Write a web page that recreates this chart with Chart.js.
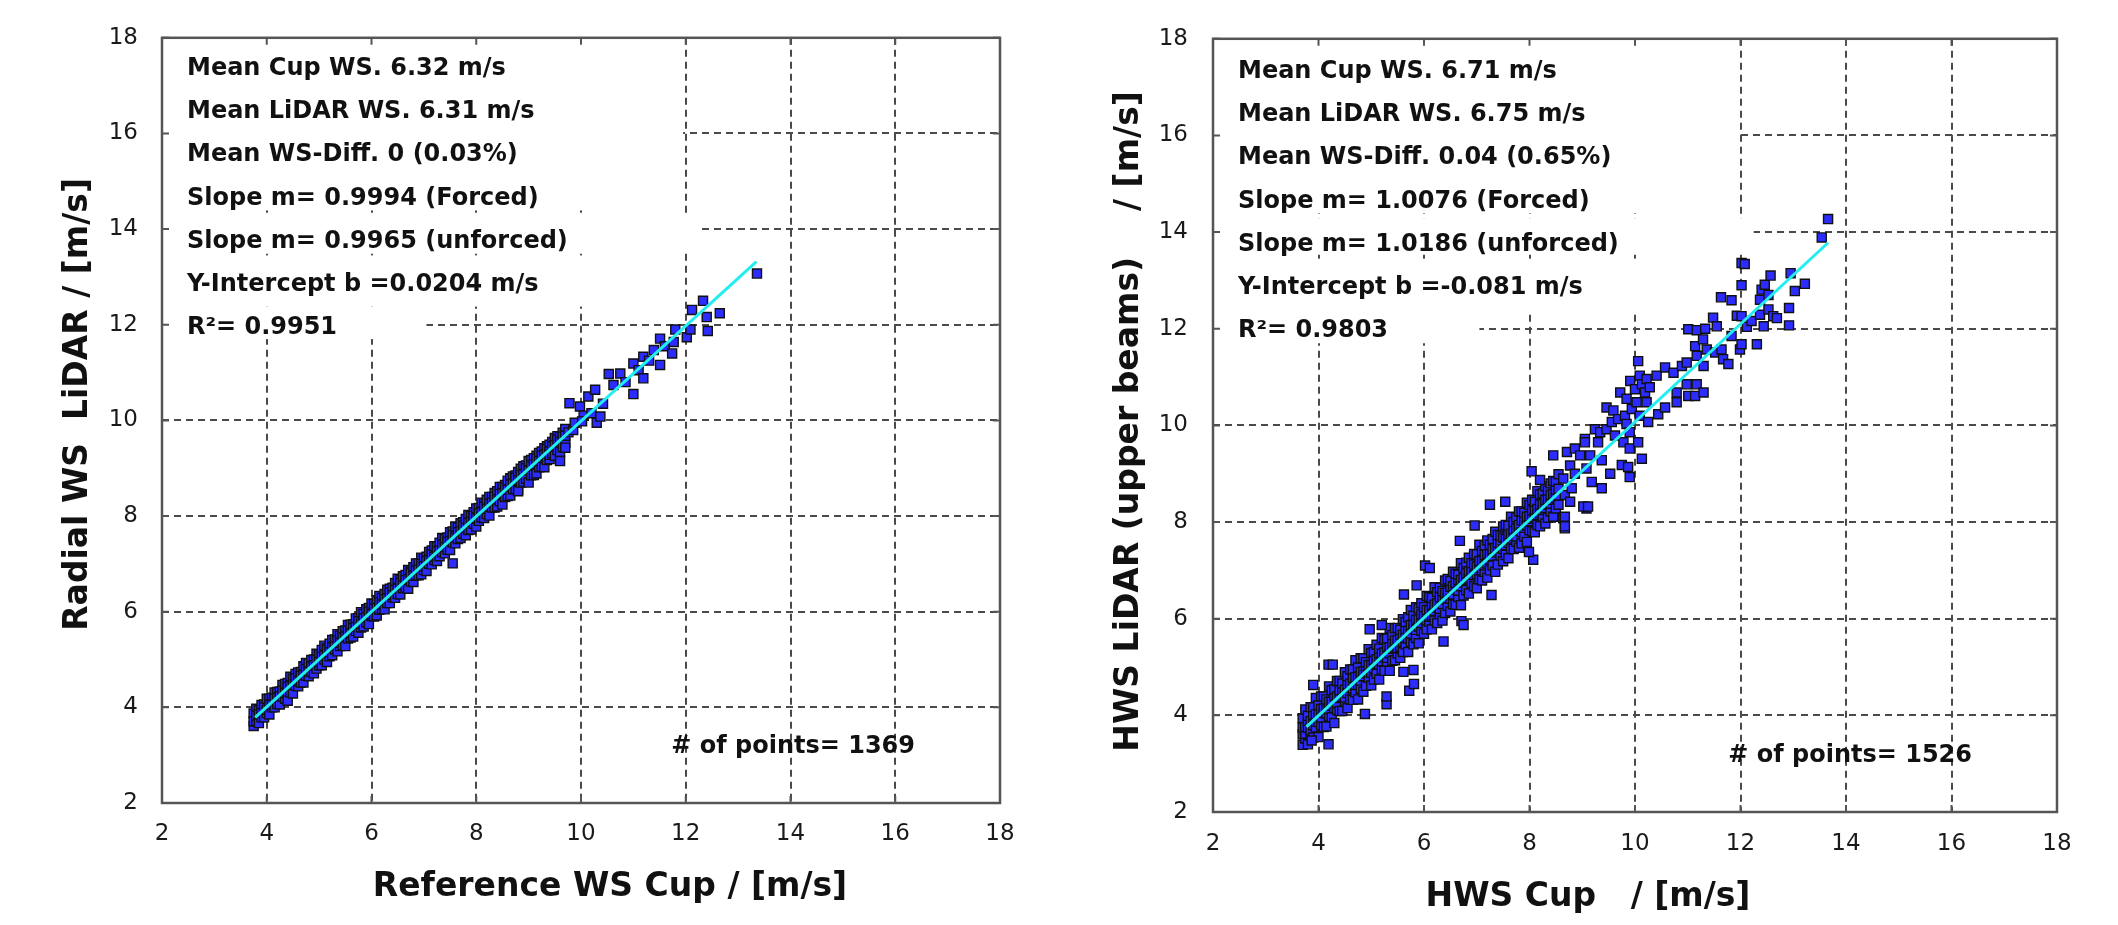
<!DOCTYPE html>
<html>
<head>
<meta charset="utf-8">
<script src="https://cdn.jsdelivr.net/npm/chart.js@4.4.1/dist/chart.umd.min.js"></script>
<style>
html, body { margin: 0; padding: 0; background: #fff; }
#izq { position: absolute; left: 0; top: 0; width: 1060px; height: 925px; }
#der { position: absolute; left: 1060px; top: 0; width: 1058px; height: 925px; }
</style>
</head>
<body>
<div id="izq"><canvas id="graficaIzq"></canvas></div>
<div id="der"><canvas id="graficaDer"></canvas></div>
<script>
// ticks de los dos ejes (iguales en las dos graficas)
var ticksEje = [2, 4, 6, 8, 10, 12, 14, 16, 18];

var columnasIzq = [
  [3.75,3.61,3.87,3.71],[3.80,3.71,3.97,3.83],[3.85,3.67,3.94,3.85],[3.90,3.79,4.05,3.88],
  [3.95,3.79,4.06,4.00],[4.00,3.88,4.18,3.95],[4.05,3.85,4.18,4.06],[4.10,4.00,4.20,4.06],
  [4.15,4.00,4.31,4.18],[4.20,4.07,4.32,4.20],[4.25,4.06,4.33,4.23],[4.30,4.22,4.47,4.35],
  [4.35,4.18,4.49,4.30],[4.40,4.28,4.51,4.43,4.14],[4.45,4.31,4.64,4.45],[4.50,4.29,4.60,4.48],
  [4.55,4.45,4.70,4.60],[4.60,4.44,4.73,4.55],[4.65,4.52,4.74,4.66],[4.70,4.52,4.86,4.68],
  [4.75,4.66,4.93,4.80],[4.80,4.65,4.92,4.75],[4.85,4.74,4.99,4.86],[4.90,4.71,5.00,4.88],
  [4.95,4.81,5.12,5.00],[5.00,4.88,5.11,4.95],[5.05,4.88,5.20,5.06],[5.10,5.00,5.29,5.08],
  [5.15,4.95,5.24,5.20],[5.20,5.07,5.33,5.15],[5.25,5.09,5.41,5.26],[5.30,5.21,5.42,5.28],
  [5.35,5.17,5.53,5.40],[5.40,5.28,5.50,5.35],[5.45,5.30,5.59,5.46],[5.50,5.28,5.61,5.48],
  [5.55,5.44,5.72,5.60],[5.60,5.46,5.73,5.55],[5.65,5.48,5.74,5.66],[5.70,5.60,5.86,5.68],
  [5.75,5.56,5.87,5.80],[5.80,5.67,5.99,5.75],[5.85,5.69,5.95,5.86],[5.90,5.78,6.05,5.88],
  [5.95,5.74,6.08,6.00],[6.00,5.91,6.17,5.95],[6.05,5.90,6.16,6.06],[6.10,5.92,6.24,6.08],
  [6.15,6.04,6.33,6.20],[6.20,6.06,6.29,6.15],[6.25,6.05,6.37,6.26],[6.30,6.18,6.46,6.28],
  [6.35,6.18,6.48,6.40],[6.40,6.30,6.50,6.35],[6.45,6.29,6.60,6.46],[6.50,6.37,6.69,6.48],
  [6.55,6.36,6.66,6.60],[6.60,6.49,6.74,6.55],[6.65,6.50,6.77,6.66],[6.70,6.48,6.87,6.68],
  [6.75,6.63,6.84,6.80],[6.80,6.62,6.93,6.75],[6.85,6.76,7.01,6.86],[6.90,6.76,7.01,6.88],
  [6.95,6.78,7.13,7.00],[7.00,6.87,7.12,6.95],[7.05,6.85,7.15,7.06],[7.10,7.00,7.25,7.08],
  [7.15,6.99,7.28,7.20],[7.20,7.08,7.37,7.15],[7.25,7.06,7.36,7.26],[7.30,7.16,7.44,7.28],
  [7.35,7.24,7.54,7.40],[7.40,7.22,7.52,7.35],[7.45,7.30,7.55,7.46],[7.50,7.29,7.66,7.48],
  [7.55,7.45,7.68,7.60,7.01],[7.60,7.43,7.78,7.55],[7.65,7.52,7.76,7.66],[7.70,7.54,7.85,7.68],
  [7.75,7.63,7.87,7.80],[7.80,7.60,7.94,7.75],[7.85,7.71,8.02,7.86],[7.90,7.72,8.00,7.88],
  [7.95,7.84,8.08,8.00],[8.00,7.78,8.16,7.95],[8.05,7.90,8.17,8.06],[8.10,7.97,8.28,8.08],
  [8.15,7.96,8.26,8.20],[8.20,8.04,8.34,8.15],[8.25,8.01,8.40,8.26],[8.30,8.18,8.40,8.28],
  [8.35,8.18,8.48,8.40],[8.40,8.20,8.52,8.35],[8.45,8.31,8.61,8.46],[8.50,8.24,8.61,8.48],
  [8.55,8.40,8.65,8.60],[8.60,8.42,8.74,8.55],[8.65,8.43,8.79,8.66],[8.70,8.56,8.83,8.68],
  [8.75,8.56,8.85,8.80],[8.80,8.55,8.92,8.75,8.52],[8.85,8.70,8.99,8.86],[8.90,8.72,9.04,8.88],
  [8.95,8.78,9.06,9.00],[9.00,8.70,9.15,8.95],[9.05,8.85,9.17,9.06],[9.10,8.86,9.21,9.08],
  [9.15,8.89,9.26,9.20],[9.20,9.02,9.32,9.15],[9.25,9.03,9.35,9.26],[9.30,9.02,9.42,9.28],
  [9.35,9.17,9.46,9.40],[9.40,9.19,9.49,9.35,9.28],[9.45,9.31,9.55,9.46],[9.50,9.26,9.63,9.48],
  [9.55,9.38,9.67,9.60],[9.60,9.34,9.66,9.55,9.15],[9.65,9.44,9.74,9.66],[9.70,9.53,9.82,9.68,9.43]
];
// puntos sueltos de la parte alta [cup, lidar]
var sueltosIzq = [
  [9.78,10.36],[9.76,9.75],[9.85,9.80],[9.88,9.95],[9.98,10.29],[10.05,10.10],[10.02,9.98],
  [10.14,10.50],[10.20,10.15],[10.27,10.64],[10.30,9.95],[10.37,10.08],[10.42,10.35],
  [10.53,10.97],[10.62,10.74],[10.75,10.98],[10.85,10.80],[11.00,11.19],[11.00,10.55],
  [11.10,11.05],[11.19,11.33],[11.19,10.88],[11.30,11.25],[11.39,11.47],[11.51,11.71],
  [11.51,11.16],[11.60,11.55],[11.74,11.40],[11.77,11.64],[11.80,11.90],[12.02,11.74],
  [12.09,11.90],[12.12,12.31],[12.33,12.50],[12.40,12.16],[12.42,11.87],[12.65,12.24],
  [13.36,13.07]
];
var rectaIzq = [[3.78,3.79],[13.35,13.32]];

// grafica derecha
var columnasDer = [
  [3.70,3.39,3.61,3.75,3.94],[3.75,3.52,3.62,3.76,4.12],[3.80,3.40,3.74,3.89,3.99],
  [3.85,3.57,3.69,3.88,4.17],[3.90,3.54,3.79,4.01,4.17],[3.95,3.75,3.87,4.02,4.36],
  [4.00,3.55,3.86,4.02,4.21],[4.05,3.79,3.95,4.13,4.39],[4.10,3.76,4.05,4.14,4.39],
  [4.15,3.77,4.04,4.27,4.33],[4.20,3.99,4.13,4.28,4.60],[4.25,3.96,4.20,4.28,4.52],
  [4.30,3.84,4.15,4.40,4.54],[4.35,4.11,4.25,4.39,4.71],[4.40,4.09,4.36,4.52,4.71],
  [4.45,4.09,4.38,4.53,4.66],[4.50,4.30,4.37,4.53,4.89],[4.55,4.15,4.46,4.64,4.81],
  [4.60,4.33,4.57,4.66,4.95],[4.65,4.32,4.55,4.78,4.95],[4.70,4.48,4.63,4.79,5.14],
  [4.75,4.33,4.63,4.79,4.99],[4.80,4.55,4.72,4.90,5.18],[4.85,4.49,4.81,4.91,5.18],
  [4.90,4.61,4.87,5.02,5.10],[4.95,4.78,4.89,5.04,5.37],[5.00,4.62,4.88,5.04,5.29],
  [5.05,4.74,4.97,5.15,5.31],[5.10,4.86,5.07,5.16,5.46],[5.15,4.74,5.05,5.28,5.38],
  [5.20,4.95,5.12,5.28,5.60],[5.25,4.92,5.20,5.30,5.57],[5.30,5.11,5.19,5.42,5.59],
  [5.35,4.92,5.28,5.41,5.81],[5.40,5.13,5.38,5.51,5.66],[5.45,5.14,5.40,5.55,5.80],
  [5.50,5.28,5.39,5.56,5.81],[5.55,5.19,5.42,5.66,5.77],[5.60,5.31,5.52,5.67,5.99],
  [5.65,5.47,5.60,5.79,5.93],[5.70,5.31,5.59,5.75,6.03],[5.75,5.52,5.69,5.87,6.18],
  [5.80,5.47,5.78,5.88,6.06],[5.85,5.60,5.77,5.98,6.24],[5.90,5.49,5.84,5.98,6.21],
  [5.95,5.75,5.91,6.09,6.32],[6.00,5.69,5.99,6.06,6.24],[6.05,5.78,5.96,6.18,6.47],
  [6.10,5.94,6.04,6.18,6.45],[6.15,5.78,6.07,6.29,6.43],[6.20,5.96,6.16,6.29,6.65],
  [6.25,5.91,6.23,6.32,6.55],[6.30,6.09,6.20,6.44,6.64],[6.35,5.96,6.30,6.44,6.57],
  [6.40,6.12,6.40,6.53,6.79],[6.45,6.27,6.42,6.54,6.82],[6.50,6.15,6.41,6.66,6.78],
  [6.55,6.30,6.50,6.67,6.97],[6.60,6.29,6.60,6.74,6.93],[6.65,6.45,6.58,6.80,6.91],
  [6.70,6.28,6.67,6.80,7.15],[6.75,6.48,6.75,6.83,7.05],[6.80,6.59,6.80,6.94,7.16],
  [6.85,6.52,6.83,6.98,7.26],[6.90,6.74,6.91,7.00,7.15],[6.95,6.67,6.90,7.12,7.34],
  [7.00,6.63,6.92,7.08,7.33],[7.05,6.82,7.06,7.19,7.53],[7.10,6.79,7.00,7.20,7.40],
  [7.15,6.97,7.10,7.32,7.52],[7.20,6.85,7.14,7.33,7.62],[7.25,7.00,7.22,7.33,7.53],
  [7.30,7.10,7.30,7.44,7.65],[7.35,6.97,7.37,7.46,7.80],[7.40,7.12,7.41,7.57,7.73],
  [7.45,7.31,7.47,7.56,7.72],[7.50,7.19,7.44,7.68,7.91],[7.55,7.32,7.52,7.65,7.94],
  [7.60,7.25,7.57,7.75,7.92],[7.65,7.45,7.66,7.76,8.11],[7.70,7.44,7.71,7.85,8.00],
  [7.75,7.59,7.70,7.87,8.10],[7.80,7.47,7.82,7.94,8.22],[7.85,7.56,7.79,8.03,8.22],
  [7.90,7.70,7.88,8.01,8.19],[7.95,7.59,7.93,8.11,8.40],[8.00,7.83,8.02,8.12,8.35],
  [8.05,7.81,8.07,8.24,8.46],[8.10,7.79,8.10,8.26,8.42],[8.15,7.94,8.14,8.27,8.64],
  [8.20,7.91,8.18,8.36,8.57],[8.25,8.11,8.25,8.37,8.59],[8.30,7.97,8.29,8.46,8.74],
  [8.35,8.09,8.36,8.48,8.65],[8.40,8.22,8.38,8.56,8.80],[8.45,8.11,8.46,8.58,8.85],
  [8.50,8.28,8.50,8.67,8.84],[8.55,8.36,8.55,8.69,8.99]
];
var sueltosDer = [
  [4.19,3.40],[3.87,3.48],[3.90,4.63],[4.19,5.05],[4.27,5.05],[4.88,4.03],[5.29,4.23],
  [5.29,4.39],[5.72,4.51],[5.81,4.65],[5.80,4.94],[5.61,4.90],[5.20,5.87],[4.97,5.78],
  [5.62,6.50],[5.86,6.69],[6.02,7.10],[6.11,7.05],[6.37,5.53],[6.71,5.95],[6.75,5.87],
  [6.68,7.61],[6.96,7.93],[7.28,6.49],[7.25,8.36],[7.54,8.42],[8.04,9.05],[8.20,8.87],
  [8.07,7.22],[7.99,7.38],[8.45,9.38],[8.67,7.87],[9.08,8.28],[9.05,9.72],[8.64,8.08],
  [8.64,8.90],[8.67,8.56],[8.77,8.42],[8.67,8.11],[8.67,7.91],[8.80,8.70],[8.71,9.45],
  [8.77,9.17],[8.86,9.52],[8.86,9.00],[8.96,9.38],[9.02,8.32],[9.11,8.32],[9.05,9.65],
  [9.08,9.11],[9.15,9.38],[9.18,8.83],[9.24,9.92],[9.30,9.65],[9.34,9.86],[9.37,9.28],
  [9.37,8.70],[9.46,9.92],[9.46,10.37],[9.53,9.00],[9.56,10.07],[9.59,10.31],[9.62,9.79],
  [9.68,10.13],[9.72,10.68],[9.75,9.18],[9.78,9.65],[9.81,10.20],[9.84,10.55],[9.84,10.03],
  [9.87,9.14],[9.90,9.86],[9.90,9.52],[9.90,8.93],[9.91,10.92],[9.94,10.34],[10.00,10.75],
  [10.03,10.48],[10.06,11.33],[10.06,9.65],[10.09,11.03],[10.09,10.20],[10.13,10.85],
  [10.13,9.31],[10.19,10.68],[10.22,10.96],[10.22,10.48],[10.25,10.07],[10.28,10.79],
  [10.41,11.03],[10.44,10.23],[10.57,11.20],[10.57,10.37],[10.73,11.09],[10.79,10.68],
  [10.79,10.48],[10.89,11.23],[10.98,11.30],[10.98,10.85],[11.01,11.99],[11.01,10.61],
  [11.14,11.64],[11.14,10.61],[11.17,11.97],[11.17,11.44],[11.17,10.85],[11.29,11.78],
  [11.30,11.23],[11.30,10.68],[11.33,12.00],[11.36,11.57],[11.48,12.23],[11.52,11.51],
  [11.55,12.05],[11.63,12.65],[11.64,11.57],[11.67,11.37],[11.77,11.27],[11.83,12.59],
  [11.83,11.85],[11.93,12.27],[11.99,11.57],[12.02,13.36],[12.02,12.90],[12.02,12.26],
  [12.02,11.68],[12.08,13.34],[12.12,12.04],[12.21,12.16],[12.31,11.68],[12.37,12.60],
  [12.37,12.29],[12.40,12.81],[12.44,12.05],[12.46,12.91],[12.53,12.70],[12.53,12.40],
  [12.57,13.10],[12.62,12.26],[12.69,12.22],[12.92,12.43],[12.92,12.07],[12.95,13.15],
  [13.03,12.78],[13.22,12.93],[13.54,13.89],[13.66,14.27]
];
var rectaDer = [[3.77,3.76],[13.66,13.78]];

// cajas blancas detras del texto [x0, x1, y0, y1] en unidades de los ejes
var cajasTexto = [[2, 11.95, 18, 14.39], [2, 12.25, 14.28, 13.55], [2, 11.1, 13.45, 12.38], [2, 7.05, 12.38, 11.7]];

var textoIzq = [
  "Mean Cup WS. 6.32 m/s",
  "Mean LiDAR WS. 6.31 m/s",
  "Mean WS-Diff. 0 (0.03%)",
  "Slope m= 0.9994 (Forced)",
  "Slope m= 0.9965 (unforced)",
  "Y-Intercept b =0.0204 m/s",
  "R\u00b2= 0.9951"
];
var textoDer = [
  "Mean Cup WS. 6.71 m/s",
  "Mean LiDAR WS. 6.75 m/s",
  "Mean WS-Diff. 0.04 (0.65%)",
  "Slope m= 1.0076 (Forced)",
  "Slope m= 1.0186 (unforced)",
  "Y-Intercept b =-0.081 m/s",
  "R\u00b2= 0.9803"
];

var fuente = "'DejaVu Sans', Verdana, sans-serif";

function armarPuntos(columnas, sueltos) {
  var puntos = [];
  columnas.forEach(function(col) {
    for (var i = 1; i < col.length; i++) {
      puntos.push({ x: col[0], y: col[i] });
    }
  });
  sueltos.forEach(function(p) {
    puntos.push({ x: p[0], y: p[1] });
  });
  return puntos;
}

function armarRecta(r) {
  return r.map(function(p) { return { x: p[0], y: p[1] }; });
}

var colorGrid = function(ctx) {
  if (ctx.tick && (ctx.tick.value === 2 || ctx.tick.value === 18)) return 'rgba(0,0,0,0)';
  return '#4a4a4a';
};

var panelPlugin = {
  id: 'panel',
  beforeDatasetsDraw: function(chart) {
    var ctx = chart.ctx, sx = chart.scales.x, sy = chart.scales.y;
    ctx.save();
    ctx.fillStyle = '#fff';
    cajasTexto.forEach(function(c) {
      var x0 = sx.getPixelForValue(c[0]), x1 = sx.getPixelForValue(c[1]);
      var y0 = sy.getPixelForValue(c[2]), y1 = sy.getPixelForValue(c[3]);
      ctx.fillRect(x0, y0, x1 - x0, y1 - y0);
    });
    ctx.restore();
  },
  afterDatasetsDraw: function(chart, args, opts) {
    var ctx = chart.ctx, area = chart.chartArea;
    var sx = chart.scales.x, sy = chart.scales.y;
    ctx.save();
    // marco
    ctx.strokeStyle = '#555';
    ctx.lineWidth = 2.5;
    ctx.strokeRect(area.left, area.top, area.right - area.left, area.bottom - area.top);
    // marcas de tick hacia adentro
    ctx.lineWidth = 2;
    ctx.beginPath();
    ticksEje.forEach(function(v) {
      var px = sx.getPixelForValue(v), py = sy.getPixelForValue(v);
      ctx.moveTo(px, area.top); ctx.lineTo(px, area.top + 7);
      ctx.moveTo(px, area.bottom); ctx.lineTo(px, area.bottom - 7);
      ctx.moveTo(area.left, py); ctx.lineTo(area.left + 7, py);
      ctx.moveTo(area.right, py); ctx.lineTo(area.right - 7, py);
    });
    ctx.stroke();
    // texto de estadisticas
    ctx.fillStyle = '#111';
    ctx.font = 'bold 24px ' + fuente;
    ctx.textBaseline = 'middle';
    ctx.textAlign = 'left';
    opts.lineas.forEach(function(t, i) {
      ctx.fillText(t, area.left + 25, area.top + opts.arriba + i * 43.2);
    });
    ctx.textAlign = 'right';
    ctx.fillText(opts.puntos, area.right - 85, area.bottom - 56);
    // titulos de los ejes
    ctx.font = 'bold 33px ' + fuente;
    ctx.textAlign = 'center';
    ctx.fillText(opts.tituloX, (area.left + area.right) / 2 + opts.dxTituloX, opts.yTituloX);
    ctx.translate(opts.xTituloY, (area.top + area.bottom) / 2 + opts.dyTituloY);
    ctx.rotate(-Math.PI / 2);
    ctx.fillText(opts.tituloY, 0, 0);
    ctx.restore();
  }
};

function crearGrafica(idCanvas, cfg) {
  var ctx = document.getElementById(idCanvas).getContext('2d');
  return new Chart(ctx, {
    type: 'scatter',
    data: {
      datasets: [
        { type: 'line', data: armarRecta(cfg.recta), borderColor: '#22eef0', borderWidth: 3,
          pointRadius: 0, fill: false, order: 0 },
        { data: armarPuntos(cfg.columnas, cfg.sueltos), pointStyle: 'rect', pointRadius: 6.4,
          backgroundColor: '#2c2cff', borderColor: '#111', borderWidth: 1.4, order: 1 }
      ]
    },
    options: {
      responsive: true,
      maintainAspectRatio: false,
      animation: false,
      layout: { padding: { left: 0, top: cfg.arriba, right: cfg.derecha, bottom: 0 } },
      plugins: {
        legend: { display: false },
        tooltip: { enabled: false },
        panel: {
          lineas: cfg.lineas, puntos: cfg.puntos, arriba: cfg.textoArriba,
          tituloX: cfg.tituloX, dxTituloX: cfg.dxTituloX, yTituloX: cfg.yTituloX,
          tituloY: cfg.tituloY, xTituloY: cfg.xTituloY, dyTituloY: cfg.dyTituloY
        }
      },
      scales: {
        x: {
          type: 'linear', min: 2, max: 18,
          ticks: { stepSize: 2, padding: cfg.padTickX, color: '#1a1a1a', font: { family: fuente, size: 23 } },
          grid: { color: colorGrid, lineWidth: 2, drawTicks: false },
          border: { display: false, dash: [7, 5] },
          afterFit: function(s) { s.height = cfg.altoX; }
        },
        y: {
          type: 'linear', min: 2, max: 18,
          ticks: { stepSize: 2, padding: cfg.padTickY, color: '#1a1a1a', font: { family: fuente, size: 23 } },
          grid: { color: colorGrid, lineWidth: 2, drawTicks: false },
          border: { display: false, dash: [7, 5] },
          afterFit: function(s) { s.width = cfg.anchoY; }
        }
      }
    },
    plugins: [panelPlugin]
  });
}

crearGrafica('graficaIzq', {
  columnas: columnasIzq, sueltos: sueltosIzq, recta: rectaIzq,
  lineas: textoIzq, puntos: '# of points= 1369', textoArriba: 31,
  tituloX: 'Reference WS Cup / [m/s]', dxTituloX: 29, yTituloX: 887,
  tituloY: 'Radial WS  LiDAR / [m/s]', xTituloY: 78, dyTituloY: -16,
  arriba: 32, derecha: 60, altoX: 122, anchoY: 162,
  padTickX: 17, padTickY: 24
});

crearGrafica('graficaDer', {
  columnas: columnasDer, sueltos: sueltosDer, recta: rectaDer,
  lineas: textoDer, puntos: '# of points= 1526', textoArriba: 33,
  tituloX: 'HWS Cup   / [m/s]', dxTituloX: -47, yTituloX: 897,
  tituloY: 'HWS LiDAR (upper beams)    / [m/s]', xTituloY: 69, dyTituloY: -4,
  arriba: 34, derecha: 61, altoX: 113, anchoY: 153,
  padTickX: 18, padTickY: 25
});
</script>
</body>
</html>
